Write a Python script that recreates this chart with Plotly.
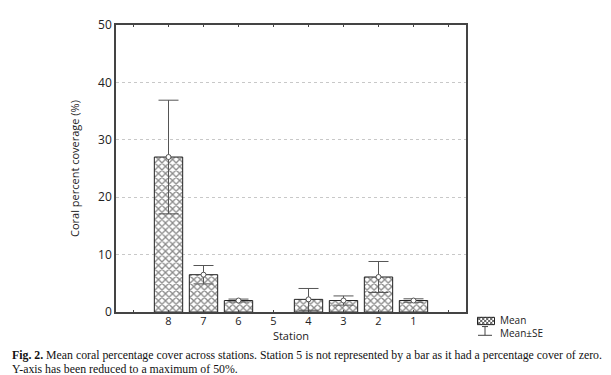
import plotly.graph_objects as go

stations = ["8", "7", "6", "5", "4", "3", "2", "1"]
means = [27.0, 6.5, 2.0, None, 2.2, 2.0, 6.1, 2.0]
se = [9.9, 1.6, 0.25, None, 1.9, 0.8, 2.7, 0.3]
y_ticks = [0, 10, 20, 30, 40, 50]
cat_order = [" "] + stations + ["  "]

W, H = 611, 375
L, R, T, B = 108, 458, 8.5, 304

fig = go.Figure()
fig.add_trace(go.Bar(
    x=stations, y=means, width=0.81,
    marker=dict(color="white", line=dict(color="#222", width=1),
                pattern=dict(shape="x", size=5, solidity=0.45, fgcolor="#111", bgcolor="white")),
    showlegend=False))
fig.add_trace(go.Scatter(
    x=stations, y=means, mode="markers",
    marker=dict(symbol="circle", size=5, color="white", line=dict(color="#555", width=1)),
    error_y=dict(type="data", array=se, visible=True, color="#555", thickness=1, width=10),
    showlegend=False))

fig.update_layout(
    width=W, height=H,
    margin=dict(l=L, r=W - R, t=T, b=H - B),
    paper_bgcolor="white", plot_bgcolor="white",
    font=dict(family="Open Sans, Noto Sans, sans-serif", size=11, color="#222"),
    bargap=0.19,
)
fig.update_xaxes(
    type="category", categoryorder="array", categoryarray=cat_order,
    range=[-0.5, 9.5], showline=True, linecolor="#444", linewidth=1.5, mirror="ticks",
    ticks="inside", ticklen=2, tickcolor="#444", showgrid=False, ticklabelstandoff=-2,
    title=dict(text="Station", font=dict(size=11), standoff=0),
    tickfont=dict(size=11))
fig.update_yaxes(
    range=[0, 50], tickvals=y_ticks, showline=True, linecolor="#444", linewidth=1.5, mirror=True,
    ticks="", showgrid=True, gridcolor="#c8c8c8", griddash="dot", gridwidth=1,
    zeroline=False, tickfont=dict(size=12),
    title=dict(text="Coral percent coverage (%)", font=dict(size=11), standoff=16))

# pixel -> paper (plot-area) coordinates
def px(xp):
    return (xp - L) / (R - L)
def py(yp):
    return (B - yp) / (B - T)

shapes = []
# Mean swatch
x0, x1, y0, y1 = 469.5, 486.5, 309.5, 317
shapes.append(dict(type="rect", xref="paper", yref="paper", x0=px(x0), x1=px(x1), y0=py(y1), y1=py(y0),
                   line=dict(color="#222", width=1), fillcolor="white"))
hgt = y1 - y0
for xa in [x0 - 8, x0 - 4, x0, x0 + 4, x0 + 8, x0 + 12, x0 + 16]:
    for direction in (1, -1):
        sx0, sx1 = xa, xa + hgt
        if direction == 1:
            sy0, sy1 = y0, y1
        else:
            sy0, sy1 = y1, y0
        if sx0 < x0:
            d = x0 - sx0
            sx0 = x0
            sy0 += d * direction
        if sx1 > x1:
            d = sx1 - x1
            sx1 = x1
            sy1 -= d * direction
        if sx1 > sx0:
            shapes.append(dict(type="line", xref="paper", yref="paper", x0=px(sx0), y0=py(sy0),
                               x1=px(sx1), y1=py(sy1), line=dict(color="#222", width=0.8)))
# Mean±SE symbol
ex, ey0, ey1 = 477, 319, 328
shapes.append(dict(type="line", xref="paper", yref="paper", x0=px(ex), x1=px(ex), y0=py(ey0), y1=py(ey1), line=dict(color="#444", width=1)))
shapes.append(dict(type="line", xref="paper", yref="paper", x0=px(ex - 3), x1=px(ex + 3), y0=py(ey0), y1=py(ey0), line=dict(color="#444", width=1)))
shapes.append(dict(type="line", xref="paper", yref="paper", x0=px(ex - 7), x1=px(ex + 7), y0=py(ey1), y1=py(ey1), line=dict(color="#444", width=1)))

serif = "Liberation Serif, Times New Roman, serif"
annotations = [
    dict(text="Mean<br>Mean±SE", xref="paper", yref="paper", x=px(490), y=py(318.5), xanchor="left", yanchor="middle",
         align="left", showarrow=False, font=dict(size=10, color="#222")),
    dict(text="<b>Fig. 2.</b> Mean coral percentage cover across stations. Station 5 is not represented by a bar as it had a percentage cover of zero.",
         xref="paper", yref="paper", x=px(2), y=py(348), xanchor="left", yanchor="middle", showarrow=False,
         font=dict(family=serif, size=11.8, color="#111")),
    dict(text="Y-axis has been reduced to a maximum of 50%.",
         xref="paper", yref="paper", x=px(2), y=py(363), xanchor="left", yanchor="middle", showarrow=False,
         font=dict(family=serif, size=11.8, color="#111")),
]
fig.update_layout(shapes=shapes, annotations=annotations)

fig.write_html("out.html")
